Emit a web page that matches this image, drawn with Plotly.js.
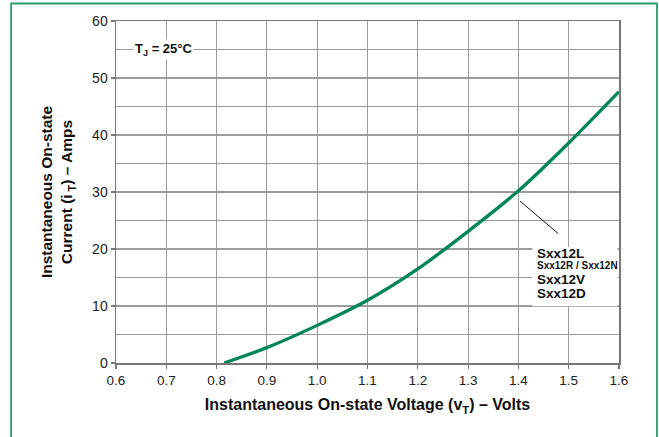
<!DOCTYPE html>
<html>
<head>
<meta charset="utf-8">
<script src="https://cdn.plot.ly/plotly-3.0.1.min.js"></script>
<style>
html,body{margin:0;padding:0;background:#fff;}
#chart{width:659px;height:437px;}
</style>
</head>
<body>
<div id="chart"></div>
<script>
// Data
const voltage = [0.815, 0.9, 1.0, 1.1, 1.2, 1.3, 1.4, 1.5, 1.6];
const current = [0, 2.7, 6.6, 11.0, 16.5, 23.1, 30.2, 38.6, 47.6];
const xTicks = [0.6, 0.7, 0.8, 0.9, 1.0, 1.1, 1.2, 1.3, 1.4, 1.5, 1.6];
const xTickText = ['0.6', '0.7', '0.8', '0.9', '1.0', '1.1', '1.2', '1.3', '1.4', '1.5', '1.6'];
const yTicks = [0, 10, 20, 30, 40, 50, 60];
const deviceLabels = ['Sxx12L', 'Sxx12R / Sxx12N', 'Sxx12V', 'Sxx12D'];
const tempLabel = 'T<sub>J</sub> = 25°C';

const FONT = 'Liberation Sans, Arial, sans-serif';
const GREEN = '#00855a';

const trace = {
  x: voltage, y: current, type: 'scatter', mode: 'lines',
  line: {color: GREEN, width: 3.3, shape: 'spline', smoothing: 0.8},
  hoverinfo: 'skip', showlegend: false
};

const layout = {
  width: 659, height: 437,
  margin: {l: 116, r: 40, t: 20.5, b: 74.3},
  paper_bgcolor: '#fff', plot_bgcolor: '#fff',
  font: {family: FONT, color: '#222', size: 13},
  xaxis: {
    range: [0.6, 1.6], tickvals: xTicks, ticktext: xTickText,
    showgrid: true, gridcolor: '#9c9c9c', gridwidth: 1.2,
    zeroline: false, showline: true, linecolor: '#777', linewidth: 1.5, mirror: true,
    ticks: 'outside', ticklen: 4, tickcolor: '#777', tickwidth: 1.2,
    tickfont: {size: 13.5, color: '#222'},
    title: {text: 'Instantaneous On-state Voltage (v<sub>T</sub>) – Volts', font: {size: 16, color: '#111', family: FONT, weight: 'bold'}, standoff: 12}
  },
  yaxis: {
    range: [0, 60], tickvals: yTicks,
    showgrid: true, gridcolor: '#9c9c9c', gridwidth: 1.2,
    minor: {dtick: 5, showgrid: true, gridcolor: '#9c9c9c', gridwidth: 1.2},
    zeroline: false, showline: true, linecolor: '#777', linewidth: 1.5, mirror: true,
    ticks: 'outside', ticklen: 4, tickcolor: '#777', tickwidth: 1.2,
    tickfont: {size: 14, color: '#222'},
    title: {text: 'Instantaneous On-state<br>Current (i<sub> T</sub>) – Amps', font: {size: 15.5, color: '#111', family: FONT, weight: 'bold'}, standoff: 15}
  },
  shapes: [
    {type: 'rect', xref: 'paper', yref: 'paper', x0: -0.2085, x1: 1.0755, y0: -0.25, y1: 1.0511,
     line: {color: '#2a9c68', width: 1.8}, fillcolor: 'rgba(0,0,0,0)', layer: 'below'},
    {type: 'rect', xref: 'x', yref: 'y', x0: 1.4277, x1: 1.597, y0: 9.95, y1: 20.35,
     line: {width: 0}, fillcolor: '#fff', layer: 'above'},
    {type: 'line', xref: 'x', yref: 'y', x0: 1.4032, y0: 28.4, x1: 1.4793, y1: 22.7,
     line: {color: '#111', width: 1}}
  ],
  annotations: [
    {xref: 'x', yref: 'y', x: 0.695, y: 55, text: '<b>' + tempLabel + '</b>', showarrow: false,
     font: {size: 13, color: '#111', family: FONT}, bgcolor: '#fff', borderpad: 1, xanchor: 'center', yanchor: 'middle'},
    {xref: 'x', yref: 'y', x: 1.433, y: 19.2, text: '<b>' + deviceLabels[0] + '</b>', showarrow: false,
     font: {size: 13.5, color: '#111', family: FONT}, xanchor: 'left', yanchor: 'middle'},
    {xref: 'x', yref: 'y', x: 1.433, y: 17.1, text: '<b>' + deviceLabels[1] + '</b>', showarrow: false,
     font: {size: 10, color: '#111', family: FONT}, xanchor: 'left', yanchor: 'middle'},
    {xref: 'x', yref: 'y', x: 1.433, y: 14.6, text: '<b>' + deviceLabels[2] + '</b>', showarrow: false,
     font: {size: 13.5, color: '#111', family: FONT}, xanchor: 'left', yanchor: 'middle'},
    {xref: 'x', yref: 'y', x: 1.433, y: 12.2, text: '<b>' + deviceLabels[3] + '</b>', showarrow: false,
     font: {size: 13.5, color: '#111', family: FONT}, xanchor: 'left', yanchor: 'middle'}
  ]
};

Plotly.newPlot('chart', [trace], layout, {staticPlot: true, displayModeBar: false});
</script>
</body>
</html>
